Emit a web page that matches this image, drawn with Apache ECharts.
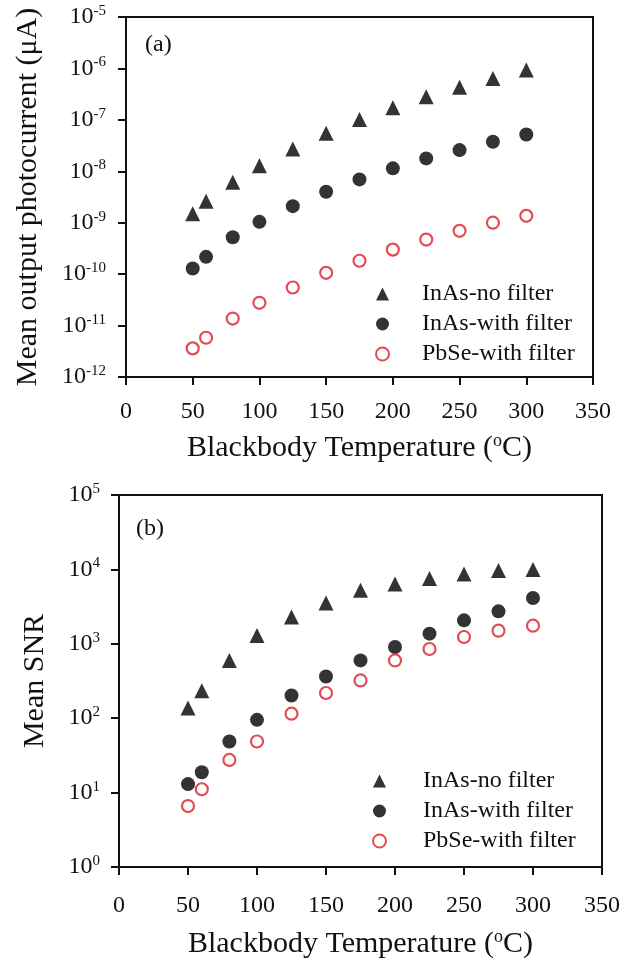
<!DOCTYPE html>
<html>
<head>
<meta charset="utf-8">
<script src="https://cdn.jsdelivr.net/npm/echarts@6/dist/echarts.min.js"></script>
<style>
  html, body { margin: 0; padding: 0; background: #fff; }
  #container { width: 631px; height: 962px; }
</style>
</head>
<body>
<div id="container"></div>
<script type="text/javascript">
    // blackbody temperatures (°C)
    var temps = [50, 60, 80, 100, 125, 150, 175, 200, 225, 250, 275, 300];

    // (a) mean output photocurrent (uA)
    var curInAsNoFilter = [1.5e-9, 2.6e-9, 6.1e-9, 1.28e-8, 2.7e-8, 5.5e-8, 1.02e-7, 1.72e-7, 2.8e-7, 4.3e-7, 6.4e-7, 9.3e-7];
    var curInAsFilter = [1.29e-10, 2.17e-10, 5.2e-10, 1.04e-9, 2.1e-9, 4.0e-9, 6.95e-9, 1.14e-8, 1.78e-8, 2.58e-8, 3.75e-8, 5.2e-8];
    var curPbSeFilter = [3.6e-12, 5.8e-12, 1.37e-11, 2.77e-11, 5.5e-11, 1.06e-10, 1.82e-10, 3.0e-10, 4.7e-10, 6.95e-10, 1.0e-9, 1.36e-9];

    // (b) mean SNR
    var snrInAsNoFilter = [137, 234, 598, 1297, 2295, 3540, 5230, 6380, 7520, 8700, 9640, 9940];
    var snrInAsFilter = [13.0, 18.8, 48.6, 95, 202, 364, 598, 906, 1368, 2065, 2730, 4130];
    var snrPbSeFilter = [6.6, 11.1, 27.5, 48.6, 115, 218, 322, 598, 851, 1235, 1500, 1750];

    var seriesNames = ['InAs-no filter', 'InAs-with filter', 'PbSe-with filter'];

    var font = "'Liberation Serif', 'Times New Roman', serif";

    function pairs(ys) {
        var out = [];
        for (var i = 0; i < temps.length; i++) {
            out.push([temps[i], ys[i]]);
        }
        return out;
    }

    function powLabel(v) {
        var e = Math.round(Math.log(v) / Math.LN10);
        return '{b|10}{s|' + e + '}';
    }

    var labelRich = {
        b: { fontSize: 24, fontFamily: font, color: '#111' },
        s: { fontSize: 15, fontFamily: font, color: '#111', padding: [0, 0, 12, 0] }
    };

    function xAxis(grid, margin, gap) {
        return {
            gridIndex: grid,
            type: 'value',
            min: 0, max: 350, interval: 50,
            name: 'Blackbody Temperature ({s|o}C)',
            nameLocation: 'middle',
            nameGap: gap,
            nameTextStyle: {
                fontSize: 30, fontFamily: font, color: '#111',
                rich: { s: { fontSize: 18, fontFamily: font, color: '#111', padding: [0, 0, 14, 0] } }
            },
            axisLine: { lineStyle: { color: '#111', width: 2 } },
            axisTick: { inside: false, length: 8, lineStyle: { color: '#111', width: 2 } },
            axisLabel: { margin: margin, fontSize: 24, fontFamily: font, color: '#111' },
            splitLine: { show: false }
        };
    }

    function yAxis(grid, min, max, name, gap, margin) {
        return {
            gridIndex: grid,
            type: 'log',
            logBase: 10,
            min: min, max: max, interval: 1,
            name: name,
            nameLocation: 'middle',
            nameGap: gap,
            nameTextStyle: { fontSize: 30, fontFamily: font, color: '#111' },
            axisLine: { show: true, lineStyle: { color: '#111', width: 2 } },
            axisTick: { show: true, length: 8, lineStyle: { color: '#111', width: 2 } },
            minorTick: { show: false },
            axisLabel: { margin: margin, formatter: powLabel, rich: labelRich },
            splitLine: { show: false }
        };
    }

    var styles = [
        { symbol: 'triangle', symbolSize: 15, itemStyle: { color: '#000' } },
        { symbol: 'circle', symbolSize: 14, itemStyle: { color: '#000' } },
        { symbol: 'circle', symbolSize: 12, itemStyle: { color: '#fff', borderColor: '#d81f26', borderWidth: 2.2 } }
    ];

    function scatter(i, grid, ys) {
        return {
            name: seriesNames[i],
            type: 'scatter',
            xAxisIndex: grid,
            yAxisIndex: grid,
            symbol: styles[i].symbol,
            symbolSize: styles[i].symbolSize,
            itemStyle: styles[i].itemStyle,
            data: pairs(ys)
        };
    }

    function legend(left, top, pad) {
        return {
            orient: 'vertical',
            left: left, top: top,
            itemGap: 6,
            itemWidth: 13, itemHeight: 13,
            selectedMode: false,
            data: seriesNames,
            textStyle: { fontSize: 24, fontFamily: font, color: '#111', padding: [0, 0, 0, pad] }
        };
    }

    var dom = document.getElementById('container');
    var myChart = echarts.init(dom);

    var option = {
        backgroundColor: '#fff',
        animation: false,
        title: [
            { text: '(a)', left: 140, top: 28, textStyle: { fontSize: 24, fontWeight: 'normal', fontFamily: font, color: '#111' } },
            { text: '(b)', left: 131, top: 512, textStyle: { fontSize: 24, fontWeight: 'normal', fontFamily: font, color: '#111' } }
        ],
        legend: [legend(370, 277, 28), legend(367, 764, 32)],
        grid: [
            { left: 126, top: 17, width: 467, height: 360, show: true, borderColor: '#111', borderWidth: 2 },
            { left: 119, top: 495, width: 483, height: 372, show: true, borderColor: '#111', borderWidth: 2 }
        ],
        xAxis: [xAxis(0, 23, 55), xAxis(1, 27, 61)],
        yAxis: [
            yAxis(0, 1e-12, 1e-5, 'Mean output photocurrent (\u03bcA)', 83, 20),
            yAxis(1, 1, 1e5, 'Mean SNR', 69, 19)
        ],
        series: [
            scatter(0, 0, curInAsNoFilter),
            scatter(1, 0, curInAsFilter),
            scatter(2, 0, curPbSeFilter),
            scatter(0, 1, snrInAsNoFilter),
            scatter(1, 1, snrInAsFilter),
            scatter(2, 1, snrPbSeFilter)
        ]
    };

    if (option && typeof option === 'object') {
        myChart.setOption(option);
    }
</script>
</body>
</html>
